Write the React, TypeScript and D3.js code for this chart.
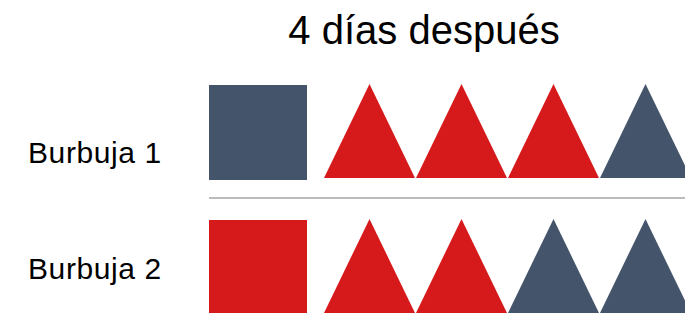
import React from 'react';
import * as d3 from 'd3';

// rows of the icon chart
const categories = ['Burbuja 1', 'Burbuja 2'];
// colour of the square block that opens each row
const squareColors = ['navy', 'red'];
// colour of each triangle, left to right
const triangleColors = [
    ['red', 'red', 'red', 'navy'],
    ['red', 'red', 'navy', 'navy'],
];
const title = '4 días después';

const palette: Record<string, string> = { navy: '#44546A', red: '#D6191B' };

const width = 685;
const height = 313;

const App = () => {
    const rowY = d3.scaleBand().domain(categories).range([81, 351]);
    const labelY = d3.scalePoint().domain(categories).range([155, 271]);
    const slotX = d3.scaleLinear().domain([0, 1]).range([324, 416]);
    const squareX = 209;
    const squareW = 98;
    const triW = 91;

    const tri = (i: number, y0: number) => {
        const x0 = slotX(i);
        const p = d3.path();
        p.moveTo(x0, y0 + 97);
        p.lineTo(x0 + triW / 2, y0 + 3);
        p.lineTo(x0 + triW, y0 + 97);
        p.closePath();
        return p.toString();
    };

    return (
        <div>
            <svg width={width} height={height} style={{ position: 'absolute', left: 0, top: 0 }}>
                <text x={424} y={44} textAnchor="middle" fontSize={40} fontFamily="Liberation Sans, Arial, sans-serif" fill="#000">
                    {title}
                </text>
                {categories.map((c, r) => {
                    const y0 = rowY(c)!;
                    return (
                        <g key={c}>
                            <text x={28} y={labelY(c)} dominantBaseline="middle" fontSize={30} letterSpacing={0.6} fontFamily="Liberation Sans, Arial, sans-serif" fill="#000">
                                {c}
                            </text>
                            <rect x={squareX} y={y0 + 4} width={squareW} height={95} fill={palette[squareColors[r]]} />
                            {triangleColors[r].map((col, i) => (
                                <path key={i} d={tri(i, y0)} fill={palette[col]} />
                            ))}
                        </g>
                    );
                })}
                <line x1={squareX} x2={width} y1={rowY(categories[1])! - 18} y2={rowY(categories[1])! - 18} stroke="#A6A6A6" strokeWidth={1.5} />
            </svg>
        </div>
    );
};

export default App;
